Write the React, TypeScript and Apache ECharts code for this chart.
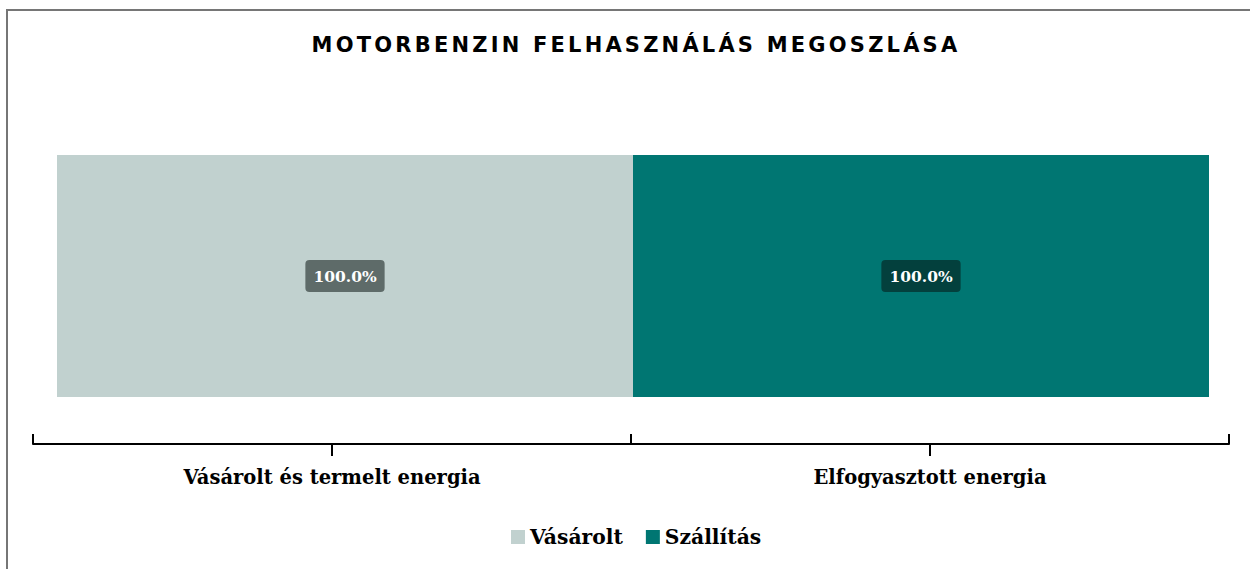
import React, { useEffect, useRef } from "react";
import * as echarts from "echarts";

const TITLE = "MOTORBENZIN FELHASZNÁLÁS MEGOSZLÁSA";
const categories = ["Vásárolt és termelt energia", "Elfogyasztott energia"];
const seriesNames = ["Vásárolt", "Szállítás"];
const vasaroltValues: (number | string)[] = [100, "-"];
const szallitasValues: (number | string)[] = ["-", 100];
const seriesColors = ["#C1D1CF", "#007672"];
const labelBoxColors = ["#5E6B69", "#03403D"];

const SERIF = "'DejaVu Serif', 'Liberation Serif', serif";

export default function App() {
  const ref = useRef<HTMLDivElement>(null);
  useEffect(() => {
    if (!ref.current) return;
    const chart = echarts.init(ref.current, null, { renderer: "svg" });
    const mkLabel = (i: number) => ({
      show: true,
      position: "inside",
      formatter: (p: any) => Number(p.value).toFixed(1) + "%",
      color: "#ffffff",
      fontFamily: SERIF,
      fontWeight: "bold",
      fontSize: 15.5,
      backgroundColor: labelBoxColors[i],
      padding: [8, 8, 8, 8],
      borderRadius: 4,
    });
    chart.setOption({
      animation: false,
      backgroundColor: "#ffffff",
      title: {
        text: TITLE,
        left: 631,
        top: 29,
        textAlign: "center",
        textStyle: {
          fontFamily: "'DejaVu Sans', sans-serif",
          fontWeight: "bold",
          fontSize: 21,
          color: "#000000",
        },
      },
      legend: {
        data: seriesNames,
        left: 506,
        top: 522,
        icon: "rect",
        itemWidth: 14,
        itemHeight: 14,
        itemGap: 23,
        textStyle: {
          fontFamily: SERIF,
          fontWeight: "bold",
          fontSize: 20.3,
          color: "#000000",
        },
      },
      grid: [
        { left: 57, right: 41, top: 155, height: 242 },
        { left: 33, right: 21, top: 300, height: 144 },
      ],
      xAxis: [
        {
          type: "category",
          gridIndex: 0,
          data: categories,
          show: false,
        },
        {
          type: "category",
          gridIndex: 1,
          data: categories,
          position: "bottom",
          offset: 0,
          axisLine: { show: true, lineStyle: { color: "#000000", width: 2 } },
          axisTick: {
            show: true,
            alignWithLabel: false,
            inside: true,
            length: 10,
            lineStyle: { color: "#000000", width: 2 },
          },
          axisLabel: {
            show: true,
            margin: 23,
            fontFamily: SERIF,
            fontWeight: "bold",
            fontSize: 19.5,
            color: "#000000",
          },
        },
        {
          type: "category",
          gridIndex: 1,
          data: categories,
          position: "bottom",
          offset: 0,
          axisLine: { show: false },
          axisTick: {
            show: true,
            alignWithLabel: true,
            inside: false,
            length: 12,
            lineStyle: { color: "#000000", width: 2 },
          },
          axisLabel: { show: false },
        },
      ],
      yAxis: [
        { type: "value", gridIndex: 0, min: 0, max: 100, show: false },
        { type: "value", gridIndex: 1, min: 0, max: 100, show: false },
      ],
      series: [
        {
          name: seriesNames[0],
          type: "bar",
          xAxisIndex: 0,
          yAxisIndex: 0,
          stack: "total",
          barCategoryGap: 0,
          data: vasaroltValues,
          itemStyle: { color: seriesColors[0] },
          label: mkLabel(0),
        },
        {
          name: seriesNames[1],
          type: "bar",
          xAxisIndex: 0,
          yAxisIndex: 0,
          stack: "total",
          barCategoryGap: 0,
          data: szallitasValues,
          itemStyle: { color: seriesColors[1] },
          label: mkLabel(1),
        },
      ],
      graphic: [
        {
          type: "line",
          silent: true,
          shape: { x1: 6, y1: 10, x2: 1250, y2: 10 },
          style: { stroke: "#767676", lineWidth: 2 },
        },
        {
          type: "line",
          silent: true,
          shape: { x1: 7, y1: 9, x2: 7, y2: 569 },
          style: { stroke: "#767676", lineWidth: 2 },
        },
      ],
    });
    const applySpacing = () => {
      ref.current?.querySelectorAll("text").forEach((t) => {
        if (t.textContent === TITLE) {
          t.setAttribute("letter-spacing", "3.2");
        }
      });
    };
    applySpacing();
    chart.on("finished", applySpacing);
    return () => chart.dispose();
  }, []);
  return (
    <div
      ref={ref}
      style={{ position: "fixed", left: 0, top: 0, width: 1250, height: 569 }}
    />
  );
}
